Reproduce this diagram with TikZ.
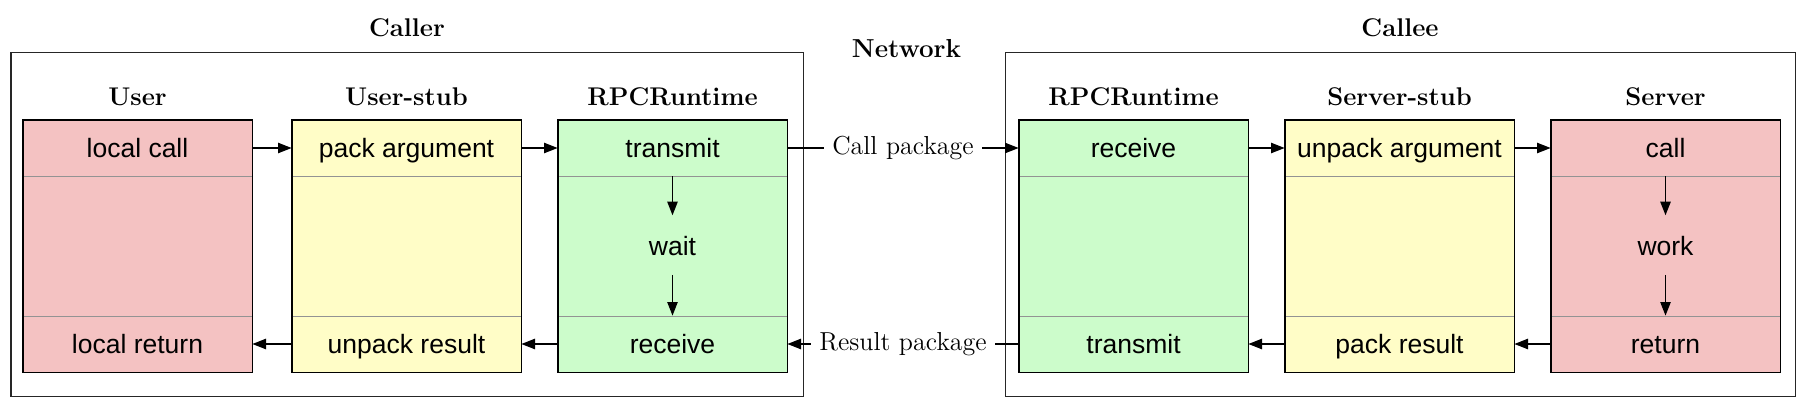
\documentclass[tikz,border=0pt]{standalone}
\usepackage{fontspec}
\setsansfont{Liberation Sans}
\usetikzlibrary{arrows.meta}

\definecolor{userred}{RGB}{244,194,194}
\definecolor{stubyellow}{RGB}{255,253,199}
\definecolor{rpcgreen}{RGB}{204,252,203}

\tikzset{every picture/.style={line width=0.75pt}}
\tikzset{
  cell/.style={draw=gray!85, line width=0.4pt, minimum width=114.5pt, inner sep=0pt,
    font=\sffamily\fontsize{13.25}{16}\selectfont, text height=11pt, text depth=1.6pt},
  endcell/.style={cell, minimum height=28pt},
  midcell/.style={cell, minimum height=70pt},
  midtext/.style={inner xsep=0pt, inner ysep=8.2pt,
    font=\sffamily\fontsize{13.25}{16}\selectfont, text height=11.7pt, text depth=0.9pt},
  colframe/.style={draw=black, line width=0.9pt},
  outerbox/.style={draw=black!85, line width=0.8pt},
  head/.style={anchor=base, font=\fontsize{12.8}{15}\selectfont\bfseries},
  pkg/.style={fill=white, inner xsep=4pt, inner ysep=1pt, font=\fontsize{13}{15}\selectfont},
  flow/.style={-{Triangle[length=6.8pt,width=5.2pt]}, line width=0.6pt}
}

\begin{document}
\begin{tikzpicture}[x=0.5pt,y=0.5pt,yscale=-1,xscale=1]
\useasboundingbox (0,0) rectangle (1808,412);

\draw[outerbox] (11,52.5) rectangle (803.3,396.5);
\draw[outerbox] (1005.3,52.5) rectangle (1795.3,396.5);

\node[head] (callerH) at (407,36.5) {Caller};
\node[head] (calleeH) at (1400,36.5) {Callee};
\node[head, font=\fontsize{13}{15}\selectfont\bfseries] (netH) at (906.5,57.3) {Network};

% caller side
\node[endcell, fill=userred] (userT) at (137.5,148) {local call};
\node[midcell, fill=userred] (userM) at (137.5,246) {};
\node[endcell, fill=userred] (userB) at (137.5,344) {local return};
\draw[colframe] (userT.north west) rectangle (userB.south east);
\node[head] (userH) at (137.5,105) {User};

\node[endcell, fill=stubyellow] (ustubT) at (406.5,148) {pack argument};
\node[midcell, fill=stubyellow] (ustubM) at (406.5,246) {};
\node[endcell, fill=stubyellow] (ustubB) at (406.5,344) {unpack result};
\draw[colframe] (ustubT.north west) rectangle (ustubB.south east);
\node[head] (ustubH) at (406.5,105) {User-stub};

\node[endcell, fill=rpcgreen] (rpcLT) at (672.5,148) {transmit};
\node[midcell, fill=rpcgreen] (rpcLM) at (672.5,246) {};
\node[endcell, fill=rpcgreen] (rpcLB) at (672.5,344) {receive};
\draw[colframe] (rpcLT.north west) rectangle (rpcLB.south east);
\node[head] (rpcLH) at (672.5,105) {RPCRuntime};
\node[midtext] (waitL) at (672.5,245) {wait};

% callee side
\node[endcell, fill=rpcgreen] (rpcRT) at (1133.5,148) {receive};
\node[midcell, fill=rpcgreen] (rpcRM) at (1133.5,246) {};
\node[endcell, fill=rpcgreen] (rpcRB) at (1133.5,344) {transmit};
\draw[colframe] (rpcRT.north west) rectangle (rpcRB.south east);
\node[head] (rpcRH) at (1133.5,105) {RPCRuntime};

\node[endcell, fill=stubyellow] (sstubT) at (1399.5,148) {unpack argument};
\node[midcell, fill=stubyellow] (sstubM) at (1399.5,246) {};
\node[endcell, fill=stubyellow] (sstubB) at (1399.5,344) {pack result};
\draw[colframe] (sstubT.north west) rectangle (sstubB.south east);
\node[head] (sstubH) at (1399.5,105) {Server-stub};

\node[endcell, fill=userred] (servT) at (1665.5,148) {call};
\node[midcell, fill=userred] (servM) at (1665.5,246) {};
\node[endcell, fill=userred] (servB) at (1665.5,344) {return};
\draw[colframe] (servT.north west) rectangle (servB.south east);
\node[head] (servH) at (1665.5,105) {Server};
\node[midtext] (workS) at (1665.5,245) {work};

\draw[flow] (userT) -- (ustubT);
\draw[flow] (ustubT) -- (rpcLT);
\draw[flow] (rpcLT) -- (waitL);
\draw[flow] (waitL) -- (rpcLB);
\draw[flow] (rpcLB) -- (ustubB);
\draw[flow] (ustubB) -- (userB);

\draw[flow] (rpcLT) -- node[pkg] {Call package} (rpcRT);
\draw[flow] (rpcRB) -- node[pkg] {Result package} (rpcLB);

\draw[flow] (rpcRT) -- (sstubT);
\draw[flow] (sstubT) -- (servT);
\draw[flow] (servT) -- (workS);
\draw[flow] (workS) -- (servB);
\draw[flow] (servB) -- (sstubB);
\draw[flow] (sstubB) -- (rpcRB);

\end{tikzpicture}
\end{document}
